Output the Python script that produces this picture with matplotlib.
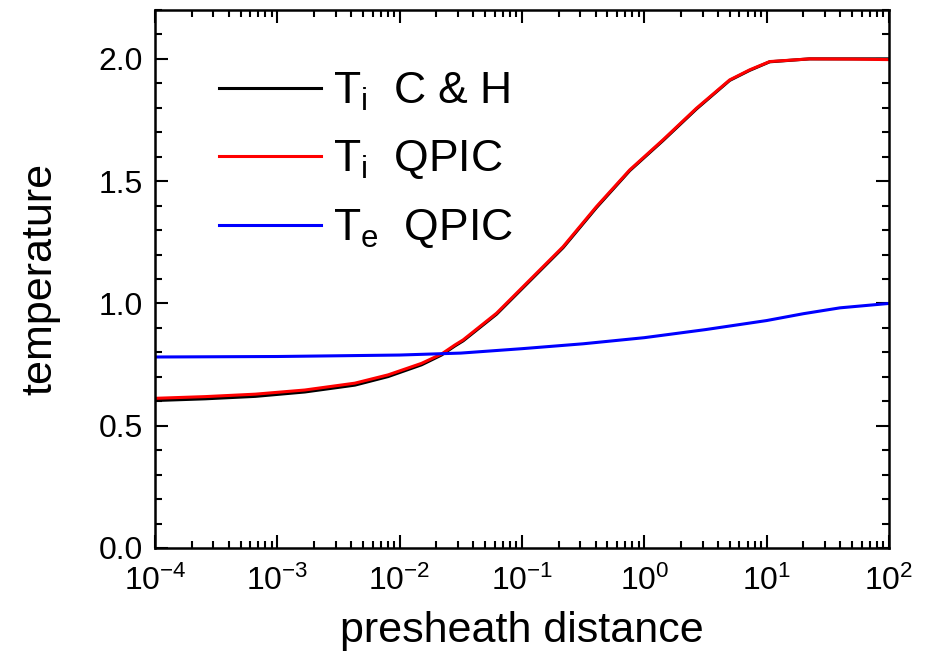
import numpy as np
import matplotlib
matplotlib.use("Agg")
import matplotlib.pyplot as plt
from matplotlib.ticker import LogLocator, MultipleLocator

plt.rcParams["font.family"] = ["Liberation Sans", "DejaVu Sans"]
plt.rcParams["mathtext.fontset"] = "custom"
plt.rcParams["mathtext.rm"] = "Liberation Sans"
plt.rcParams["mathtext.it"] = "Liberation Sans"

# values (log10 of presheath distance)
log_x_ti = [-4.0, -3.59, -3.18, -2.775, -2.366, -2.094, -1.821, -1.658, -1.549, -1.481,
            -1.208, -0.936, -0.664, -0.391, -0.119, 0.153, 0.426, 0.698, 0.861,
            1.025, 1.351, 1.7, 2.0]
ti_qpic = [0.612, 0.619, 0.629, 0.646, 0.674, 0.708, 0.755, 0.793, 0.830, 0.851,
           0.960, 1.096, 1.232, 1.396, 1.546, 1.669, 1.798, 1.914, 1.955,
           1.989, 2.0, 1.999, 1.997]
ti_ch = [0.603, 0.610, 0.620, 0.638, 0.666, 0.701, 0.749, 0.789, 0.826, 0.847,
         0.956, 1.092, 1.228, 1.392, 1.543, 1.666, 1.795, 1.912, 1.953,
         1.988, 2.0, 2.0, 2.0]

log_x_te = [-4.0, -3.0, -2.0, -1.5, -1.0, -0.5, 0.0, 0.5, 1.0, 1.3, 1.6, 2.0]
te_qpic = [0.781, 0.783, 0.789, 0.797, 0.815, 0.835, 0.86, 0.893, 0.93, 0.958, 0.982, 1.0]

fig = plt.figure(figsize=(9.26, 6.64), dpi=100)
ax = fig.add_axes([0.1674, 0.1747, 0.7926, 0.8103])

ax.plot(10 ** np.array(log_x_ti), ti_ch, color="black", lw=2.2, label=r"T$_\mathregular{i}$  C & H")
ax.plot(10 ** np.array(log_x_ti), ti_qpic, color="red", lw=2.2, label=r"T$_\mathregular{i}$  QPIC")
ax.plot(10 ** np.array(log_x_te), te_qpic, color="blue", lw=2.2, label=r"T$_\mathregular{e}$  QPIC")

ax.set_xscale("log")
ax.set_xlim(1e-4, 1e2)
ax.set_ylim(0, 2.2)
ax.xaxis.set_major_locator(LogLocator(base=10, numticks=10))
ax.xaxis.set_minor_locator(LogLocator(base=10, subs=np.arange(2, 10), numticks=20))
ax.yaxis.set_major_locator(MultipleLocator(0.5))
ax.yaxis.set_minor_locator(MultipleLocator(0.1))
ax.yaxis.set_major_formatter(plt.FuncFormatter(lambda v, p: f"{v:.1f}"))

ax.tick_params(which="both", direction="in", top=True, right=True, width=1.5)
ax.tick_params(which="major", length=9.5, labelsize=23, pad=9)
ax.tick_params(axis="x", which="major", pad=13)
ax.tick_params(which="minor", length=5)
for s in ax.spines.values():
    s.set_linewidth(1.8)

ax.set_xlabel("presheath distance", fontsize=31, labelpad=10)
ax.set_ylabel("temperature", fontsize=31, labelpad=27)

ax.legend(loc="upper left", bbox_to_anchor=(0.033, 0.962), frameon=False,
          fontsize=32, handlelength=2.3, handletextpad=0.25, labelspacing=0.58)

fig.savefig("out.png", dpi=100)
